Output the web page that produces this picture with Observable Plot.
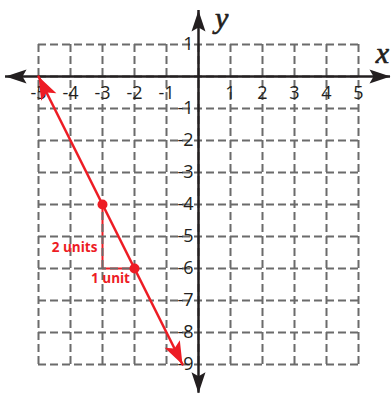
<!DOCTYPE html>
<html>
<head>
<meta charset="utf-8">
<script src="https://cdn.jsdelivr.net/npm/d3@7"></script>
<script src="https://cdn.jsdelivr.net/npm/@observablehq/plot@0.6"></script>
<style>
  html, body { margin: 0; padding: 0; background: #fff; }
  #chart svg { display: block; }
</style>
</head>
<body>
<div id="chart"></div>
<script>
// ---- data ----
const gridX = [-5, -4, -3, -2, -1, 0, 1, 2, 3, 4, 5];
const gridY = [1, 0, -1, -2, -3, -4, -5, -6, -7, -8, -9];
const xTickValues = [-5, -4, -3, -2, -1, 1, 2, 3, 4, 5];
const xTickLabels = ["-5", "-4", "-3", "-2", "-1", "1", "2", "3", "4", "5"];
const yTickValues = [1, -1, -2, -3, -4, -5, -6, -7, -8, -9];
const yTickLabels = ["1", "-1", "-2", "-3", "-4", "-5", "-6", "-7", "-8", "-9"];
const xAxisExtent = [-6.03, 6.0];
const yAxisExtent = [2.06, -9.9];
const lineX = [-5, -0.5];
const lineY = [0, -9];
const pointX = [-3, -2];
const pointY = [-4, -6];
const riseLabel = "2 units";
const runLabel = "1 unit";
const axisNames = ["x", "y"];

const RED = "#ed1c24";
const INK = "#231f20";
const GRID = "#6b6b6b";

// arrowhead symbols: tip at origin pointing up, body extends downward
function arrowSymbol(len, half, notch) {
  return {
    draw(ctx) {
      ctx.moveTo(0, 0);
      ctx.lineTo(half, len);
      ctx.lineTo(0, len - notch);
      ctx.lineTo(-half, len);
      ctx.closePath();
    }
  };
}
const axisHead = arrowSymbol(21, 7, 4);
const redHead = arrowSymbol(23, 8.5, 5);

const gx0 = d3.min(gridX), gx1 = d3.max(gridX);
const gy0 = d3.max(gridY), gy1 = d3.min(gridY);

const axisTips = [
  {x: xAxisExtent[0], y: 0, r: 270},
  {x: xAxisExtent[1], y: 0, r: 90},
  {x: 0, y: yAxisExtent[0], r: 0},
  {x: 0, y: yAxisExtent[1], r: 180}
];

const ang = Math.atan2(lineX[0] - lineX[1], lineY[0] - lineY[1]) * 180 / Math.PI;
const redTips = [
  {x: lineX[0], y: lineY[0], r: ang},
  {x: lineX[1], y: lineY[1], r: ang + 180}
];
const lineData = lineX.map((x, i) => ({x, y: lineY[i]}));
const pts = pointX.map((x, i) => ({x, y: pointY[i]}));
const tri = [
  {x: pointX[0], y: pointY[0]},
  {x: pointX[0], y: pointY[1]},
  {x: pointX[1], y: pointY[1]}
];

const chart = Plot.plot({
  width: 392,
  height: 394,
  margin: 0,
  x: {domain: [-6.1875, 6.0625], axis: null},
  y: {domain: [-9.9375, 2.375], axis: null},
  style: {background: "#fff"},
  marks: [
    // slope triangle (under the grid)
    Plot.line(tri, {x: "x", y: "y", stroke: RED, strokeWidth: 2}),
    // grid
    Plot.ruleX(gridX, {y1: gy0, y2: gy1, stroke: GRID, strokeWidth: 2, strokeDasharray: "8,4"}),
    Plot.ruleY(gridY, {x1: gx0, x2: gx1, stroke: GRID, strokeWidth: 2, strokeDasharray: "8,4"}),
    // tick labels
    Plot.text(xTickValues, {x: d => d, y: 0, text: (d, i) => xTickLabels[i], dy: 17,
      fontSize: 18, fontFamily: "Open Sans", fill: INK, textAnchor: "middle"}),
    Plot.text(yTickValues, {x: 0, y: d => d, text: (d, i) => yTickLabels[i], dx: -5,
      fontSize: 18, fontFamily: "Open Sans", fill: INK, textAnchor: "end"}),
    // axes
    Plot.ruleY([0], {x1: xAxisExtent[0], x2: xAxisExtent[1], stroke: INK, strokeWidth: 2.5}),
    Plot.ruleX([0], {y1: yAxisExtent[0], y2: yAxisExtent[1], stroke: INK, strokeWidth: 2.5}),
    Plot.dot(axisTips, {x: "x", y: "y", rotate: "r", symbol: axisHead, fill: INK, stroke: "none", r: 5}),
    // axis names
    Plot.text([axisNames[0]], {x: 5.75, y: 0.71, text: d => d, fontSize: 30,
      fontFamily: "Liberation Serif", fontStyle: "italic", fill: INK, stroke: INK, strokeWidth: 0.7, textAnchor: "middle"}),
    Plot.text([axisNames[1]], {x: 0.72, y: 1.83, text: d => d, fontSize: 30,
      fontFamily: "Liberation Serif", fontStyle: "italic", fill: INK, stroke: INK, strokeWidth: 0.7, textAnchor: "middle"}),
    // slope labels
    Plot.text([riseLabel], {x: -3.16, y: -5.34, text: d => d, fontSize: 13.5, fontWeight: "bold",
      fontFamily: "Open Sans", fill: RED, textAnchor: "end"}),
    Plot.text([runLabel], {x: -2.75, y: -6.31, text: d => d, fontSize: 13.5, fontWeight: "bold",
      fontFamily: "Open Sans", fill: RED, textAnchor: "middle"}),
    // red line
    Plot.line(lineData, {x: "x", y: "y", stroke: RED, strokeWidth: 2.5}),
    Plot.dot(redTips, {x: "x", y: "y", rotate: "r", symbol: redHead, fill: RED, stroke: "none", r: 5}),
    Plot.dot(pts, {x: "x", y: "y", r: 5, fill: RED, stroke: "none"})
  ]
});
document.getElementById("chart").appendChild(chart);
</script>
</body>
</html>
